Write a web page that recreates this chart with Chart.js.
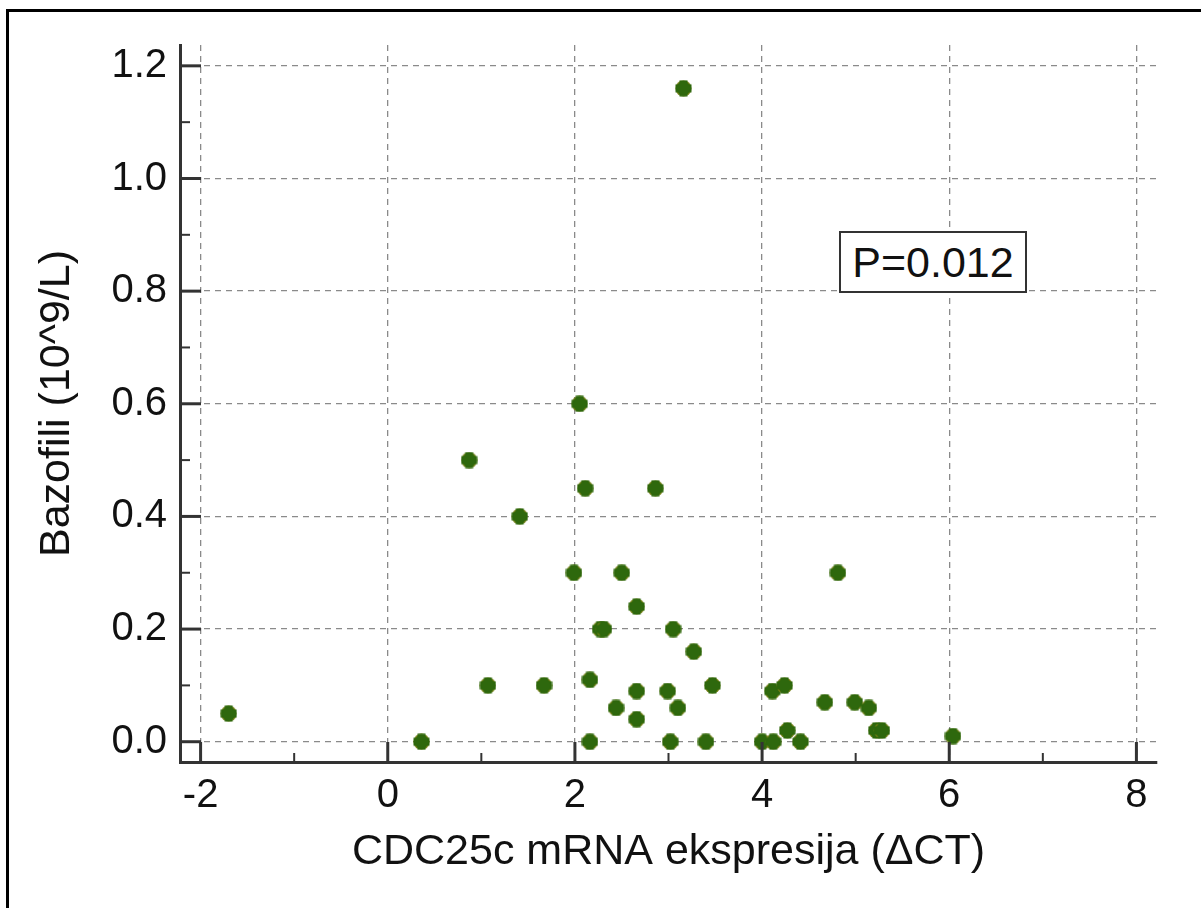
<!DOCTYPE html>
<html lang="en">
<head>
    <meta charset="UTF-8">
    <title>CDC25c vs Bazofili</title>
    <script src="https://cdn.jsdelivr.net/npm/chart.js"></script>
    <style>
        body { margin: 0; background: #fff; }
        #wrap { position: relative; width: 1201px; height: 908px; overflow: hidden; }
        #frame { position: absolute; left: 6px; top: 9px; width: 1300px; height: 1000px;
                 border-left: 3px solid #000; border-top: 3px solid #000; }
        #pbox { position: absolute; left: 839px; top: 231px; width: 184px; height: 58px;
                border: 2px solid #333; background: #fff; font-family: "Liberation Sans", Arial, sans-serif;
                font-size: 43px; line-height: 58px; text-align: center; color: #111; }
    </style>
</head>
<body>

<div id="wrap">
    <div id="frame"></div>
    <canvas id="myChart" width="1201" height="908"></canvas>
    <div id="pbox">P=0.012</div>
</div>

<script>
    // CDC25c mRNA ekspresija (delta CT) vs Bazofili (10^9/L)
    var xValues = [-1.70, 0.36, 0.87, 1.07, 1.41, 1.67, 1.99, 2.05, 2.11, 2.16,
                   2.16, 2.27, 2.31, 2.44, 2.50, 2.66, 2.66, 2.66, 2.86, 2.99,
                   3.02, 3.05, 3.10, 3.16, 3.27, 3.40, 3.47, 4.00, 4.11, 4.12,
                   4.24, 4.27, 4.41, 4.67, 4.81, 4.99, 5.14, 5.22, 5.28, 6.04];
    var yValues = [0.05, 0.00, 0.50, 0.10, 0.40, 0.10, 0.30, 0.60, 0.45, 0.11,
                   0.00, 0.20, 0.20, 0.06, 0.30, 0.24, 0.09, 0.04, 0.45, 0.09,
                   0.00, 0.20, 0.06, 1.16, 0.16, 0.00, 0.10, 0.00, 0.09, 0.00,
                   0.10, 0.02, 0.00, 0.07, 0.30, 0.07, 0.06, 0.02, 0.02, 0.01];

    // tick positions
    var xMajorTicks = [-2, 0, 2, 4, 6, 8];
    var xMinorTicks = [-1, 1, 3, 5, 7];
    var yMajorTicks = [0, 0.2, 0.4, 0.6, 0.8, 1.0, 1.2];
    var yMinorTicks = [0.1, 0.3, 0.5, 0.7, 0.9, 1.1];

    var points = xValues.map(function (x, i) { return { x: x, y: yValues[i] }; });

    // fat cross marker like the original
    var marker = document.createElement('canvas');
    marker.width = 17; marker.height = 17;
    var m = marker.getContext('2d');
    m.fillStyle = '#737e14';
    m.beginPath(); m.arc(8.5, 8.5, 8, 0, Math.PI * 2); m.fill();
    m.fillStyle = '#2e680d';
    m.fillRect(4.5, 0.5, 8, 16);
    m.fillRect(0.5, 4.5, 16, 8);
    m.beginPath(); m.arc(8.5, 8.5, 6.8, 0, Math.PI * 2); m.fill();

    var fontFamily = '"Liberation Sans", Arial, sans-serif';

    // axis ticks pointing into the plot
    var innerTicks = {
        id: 'innerTicks',
        afterDraw: function (chart) {
            var c = chart.ctx, xs = chart.scales.x, ys = chart.scales.y, a = chart.chartArea;
            c.save();
            c.strokeStyle = '#333';
            c.lineWidth = 3;
            xMajorTicks.forEach(function (v) {
                var p = xs.getPixelForValue(v);
                c.beginPath(); c.moveTo(p, a.bottom); c.lineTo(p, a.bottom - 20); c.stroke();
            });
            yMajorTicks.forEach(function (v) {
                var p = ys.getPixelForValue(v);
                c.beginPath(); c.moveTo(a.left, p); c.lineTo(a.left + 21, p); c.stroke();
            });
            c.lineWidth = 2;
            xMinorTicks.forEach(function (v) {
                var p = xs.getPixelForValue(v);
                c.beginPath(); c.moveTo(p, a.bottom); c.lineTo(p, a.bottom - 9); c.stroke();
            });
            yMinorTicks.forEach(function (v) {
                var p = ys.getPixelForValue(v);
                c.beginPath(); c.moveTo(a.left, p); c.lineTo(a.left + 10, p); c.stroke();
            });
            c.restore();
        }
    };

    var ctx = document.getElementById('myChart').getContext('2d');
    var myChart = new Chart(ctx, {
        type: 'scatter',
        data: {
            datasets: [{
                label: 'Bazofili',
                data: points,
                pointStyle: marker,
                pointRadius: 8,
                pointHoverRadius: 8
            }]
        },
        options: {
            responsive: false,
            animation: false,
            layout: { padding: { top: 45, right: 44, left: 0, bottom: 0 } },
            plugins: {
                legend: { display: false },
                tooltip: { enabled: false }
            },
            scales: {
                x: {
                    type: 'linear',
                    min: -2.22,
                    max: 8.22,
                    afterFit: function (s) { s.height = 146; },
                    afterBuildTicks: function (s) { s.ticks = xMajorTicks.map(function (v) { return { value: v }; }); },
                    ticks: {
                        padding: 10,
                        color: '#111',
                        font: { family: fontFamily, size: 40 },
                        callback: function (v) { return String(v); }
                    },
                    grid: { color: '#8a8a8a', lineWidth: 1.3, drawTicks: false },
                    border: { color: '#333', width: 3, dash: [6, 5] },
                    title: {
                        display: true,
                        text: 'CDC25c mRNA ekspresija (\u0394CT)',
                        color: '#111',
                        font: { family: fontFamily, size: 43 },
                        padding: { top: 0, bottom: 30 }
                    }
                },
                y: {
                    type: 'linear',
                    min: -0.036,
                    max: 1.237,
                    afterFit: function (s) { s.width = 180; },
                    afterBuildTicks: function (s) { s.ticks = yMajorTicks.map(function (v) { return { value: v }; }); },
                    ticks: {
                        padding: 13,
                        color: '#111',
                        font: { family: fontFamily, size: 40 },
                        callback: function (v) { return v.toFixed(1); }
                    },
                    grid: { color: '#8a8a8a', lineWidth: 1.3, drawTicks: false },
                    border: { color: '#333', width: 3, dash: [6, 5] },
                    title: {
                        display: true,
                        text: 'Bazofili (10^9/L)',
                        color: '#111',
                        font: { family: fontFamily, size: 43 },
                        padding: { top: 31, bottom: 0 }
                    }
                }
            }
        },
        plugins: [innerTicks]
    });
</script>

</body>
</html>
